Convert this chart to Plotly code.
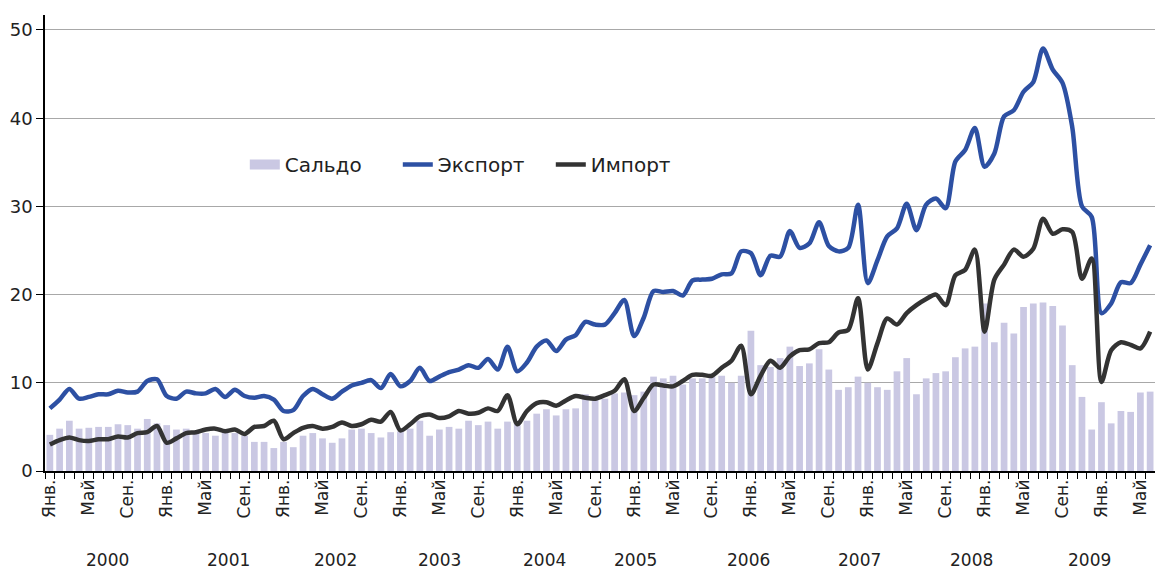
import plotly.graph_objects as go

# Monthly data, Jan 2000 - Jun 2009
years = list(range(2000, 2010))
month_abbr = {1: "Янв.", 5: "Май", 9: "Сен."}

months = []
for y in years:
    for m in range(1, 13):
        if y == 2009 and m > 6:
            break
        months.append(f"{y}-{m:02d}")

saldo = [
    4.1, 4.8, 5.7, 4.8, 4.9, 5.0, 5.0, 5.3, 5.2, 4.8, 5.9, 5.4,
    5.2, 4.7, 4.8, 4.4, 4.3, 4.0, 4.6, 4.3, 4.0, 3.3, 3.3, 2.6,
    3.3, 2.7, 4.0, 4.3, 3.7, 3.2, 3.7, 4.7, 4.8, 4.3, 3.8, 4.4,
    4.5, 4.8, 5.7, 4.0, 4.7, 5.0, 4.8, 5.7, 5.2, 5.6, 4.8, 5.6,
    5.7, 5.7, 6.5, 7.0, 6.3, 7.0, 7.1, 8.7, 8.2, 8.2, 8.8, 8.9,
    8.6, 9.0, 10.7, 10.5, 10.8, 9.8, 10.5, 10.5, 10.7, 10.8, 10.0, 10.8,
    15.9, 12.0, 11.8, 12.8, 14.1, 11.9, 12.2, 13.8, 11.5, 9.2, 9.5, 10.7,
    10.0, 9.5, 9.2, 11.3, 12.8, 8.7, 10.5, 11.1, 11.3, 12.9, 13.9, 14.1,
    19.0, 14.6, 16.8, 15.6, 18.6, 19.0, 19.1, 18.7, 16.5, 12.0, 8.4, 4.7,
    7.8, 5.4, 6.8, 6.7, 8.9, 9.0,
]

export = [
    7.1, 8.1, 9.3, 8.2, 8.4, 8.7, 8.7, 9.1, 8.9, 9.0, 10.2, 10.4,
    8.5, 8.2, 9.0, 8.8, 8.8, 9.3, 8.4, 9.2, 8.5, 8.3, 8.5, 8.1,
    6.8, 6.9, 8.5, 9.3, 8.7, 8.2, 9.0, 9.7, 10.0, 10.3, 9.4, 11.0,
    9.6, 10.2, 11.7, 10.2, 10.7, 11.2, 11.5, 12.0, 11.7, 12.7, 11.5, 14.1,
    11.3, 12.3, 14.1, 14.8, 13.6, 14.9, 15.4, 16.9, 16.6, 16.6, 17.9, 19.4,
    15.3, 17.4, 20.4, 20.3, 20.4, 19.9, 21.6, 21.7, 21.8, 22.3, 22.4, 24.9,
    24.7, 22.2, 24.4, 24.3, 27.2, 25.3, 25.8, 28.2, 25.5, 24.9, 25.3, 30.2,
    21.3, 23.9, 26.6, 27.5, 30.3, 27.3, 30.2, 30.9, 29.8, 35.1, 36.4, 38.9,
    34.5, 36.0, 40.2, 40.9, 43.0, 44.1, 47.9, 45.5, 44.0, 39.0, 30.0, 28.8,
    17.9, 19.0, 21.4, 21.3, 23.4, 25.6,
]

imports = [
    3.0, 3.5, 3.8, 3.5, 3.4, 3.6, 3.6, 3.9, 3.8, 4.3, 4.4, 5.1,
    3.2, 3.7, 4.3, 4.4, 4.7, 4.8, 4.5, 4.7, 4.2, 5.0, 5.1, 5.7,
    3.6, 4.3, 4.9, 5.1, 4.8, 5.0, 5.5, 5.1, 5.3, 5.8, 5.6, 6.7,
    4.6, 5.3, 6.2, 6.4, 6.0, 6.2, 6.8, 6.5, 6.6, 7.1, 6.8, 8.6,
    5.3, 6.8, 7.7, 7.8, 7.4, 8.0, 8.5, 8.3, 8.2, 8.6, 9.1, 10.4,
    6.8, 8.3, 9.8, 9.7, 9.6, 10.2, 10.9, 10.9, 10.8, 11.7, 12.5, 14.2,
    8.7, 10.8, 12.5, 11.7, 13.0, 13.7, 13.8, 14.5, 14.6, 15.7, 16.0, 19.6,
    11.5, 14.5, 17.3, 16.6, 17.9, 18.8, 19.5, 20.0, 18.8, 22.2, 22.8, 25.1,
    15.8, 21.7, 23.4, 25.1, 24.3, 25.2, 28.6, 26.9, 27.4, 27.1, 21.8, 24.1,
    10.1, 13.7, 14.6, 14.3, 13.9, 15.8,
]

tick_text = [month_abbr.get(int(m[5:]), "") for m in months]
year_label_pos = [5.9, 18.3, 29.3, 40.0, 50.8, 60.1, 71.7, 83.2, 94.7, 106.8]
y_ticks = [0, 10, 20, 30, 40, 50]

SALDO_C = "#CAC8E3"
EXPORT_C = "#2D50A3"
IMPORT_C = "#333333"
FONT = "DejaVu Sans"

fig = go.Figure()
fig.add_trace(go.Bar(x=months, y=saldo, name="Сальдо", showlegend=False,
                     marker=dict(color=SALDO_C, line=dict(width=0))))
# legend-only entry giving a wide rectangular swatch for the bars
fig.add_trace(go.Scatter(x=[None], y=[None], name="Сальдо", mode="lines",
                         line=dict(color=SALDO_C, width=15)))
fig.add_trace(go.Scatter(x=months, y=export, name="Экспорт", mode="lines",
                         line=dict(color=EXPORT_C, width=4.5, shape="spline", smoothing=0.8)))
fig.add_trace(go.Scatter(x=months, y=imports, name="Импорт", mode="lines",
                         line=dict(color=IMPORT_C, width=4.5, shape="spline", smoothing=0.8)))

for yr, pos in zip(years, year_label_pos):
    fig.add_annotation(x=pos, y=0, xref="x", yref="paper", text=str(yr),
                       showarrow=False, yshift=-89, yanchor="middle",
                       font=dict(family=FONT, size=17, color="#222222"))

fig.update_layout(
    width=1155, height=572,
    margin=dict(l=45, r=0, t=15, b=101, autoexpand=False),
    paper_bgcolor="white", plot_bgcolor="white",
    bargap=0.31,
    showlegend=True,
    legend=dict(orientation="h", x=0.18, y=0.672, xanchor="left", yanchor="middle",
                font=dict(family=FONT, size=20, color="#222222"),
                bgcolor="rgba(0,0,0,0)", tracegroupgap=0,
                entrywidth=108, entrywidthmode="pixels"),
    font=dict(family=FONT, color="#222222"),
)
fig.update_xaxes(
    type="category", range=[-0.5, len(months) - 0.5],
    tickmode="array", tickvals=months, ticktext=tick_text,
    tickangle=-90, tickson="boundaries", ticks="outside", ticklen=6,
    tickcolor="black", tickwidth=1,
    showline=True, linecolor="black", linewidth=1.5,
    showgrid=False, tickfont=dict(family=FONT, size=17, color="#222222"),
)
fig.update_yaxes(
    range=[0, 51.7], tickvals=y_ticks, ticks="outside", ticklen=7,
    tickcolor="black", showline=True, linecolor="black", linewidth=1.5,
    showgrid=True, gridcolor="#A8A8A8", gridwidth=1, zeroline=False,
    tickfont=dict(family=FONT, size=18, color="#222222"),
)

fig.write_html("out.html", config={"displayModeBar": False},
               post_script="document.body.style.margin='0';document.body.style.padding='0';")
